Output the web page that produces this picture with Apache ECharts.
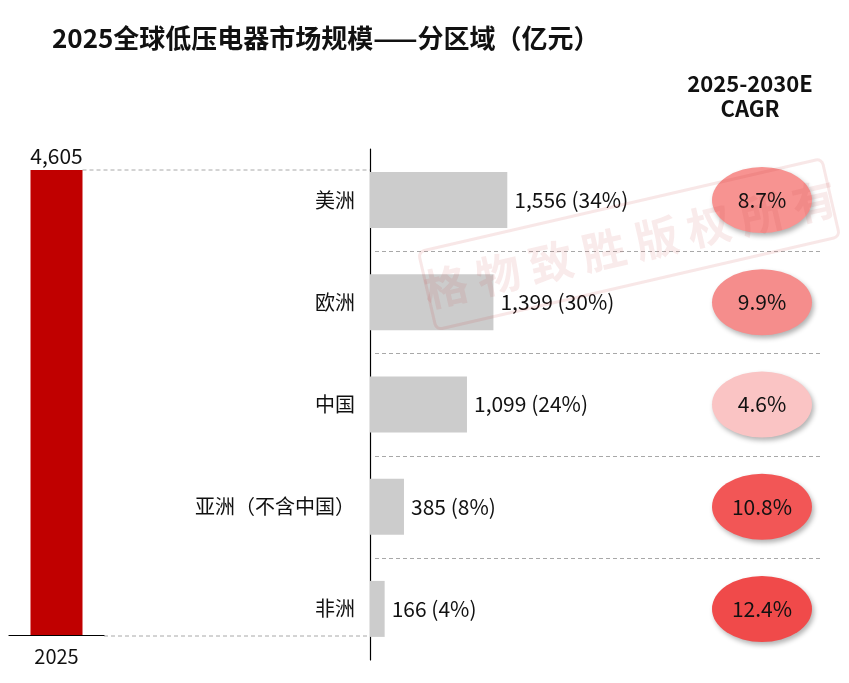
<!DOCTYPE html>
<html>
<head>
<meta charset="utf-8">
<script src="https://cdn.jsdelivr.net/npm/echarts@6/dist/echarts.min.js"></script>
<style>
  html, body { margin: 0; padding: 0; background: #fff; }
  #chart { width: 849px; height: 683px; }
</style>
</head>
<body>
<div id="chart"></div>
<script>
const FONT = '"Noto Sans CJK SC", "Noto Sans", sans-serif';

const years = ['2025'];
const totals = [4605];
const regions = ['美洲', '欧洲', '中国', '亚洲（不含中国）', '非洲'];
const regionValues = [1556, 1399, 1099, 385, 166];
const cagrValues = [8.7, 9.9, 4.6, 10.8, 12.4];
const cagrColors = ['#F79391', '#F58D8C', '#FAC4C4', '#F25656', '#F04A4A'];

const fmt = v => v.toLocaleString('en-US');

const chart = echarts.init(document.getElementById('chart'));

let option = {
  backgroundColor: '#fff',
  textStyle: { fontFamily: FONT },
  animation: false,
  title: [
    {
      text: '2025全球低压电器市场规模——分区域（亿元）',
      left: 47, top: 20,
      textStyle: { fontFamily: FONT, fontSize: 26, fontWeight: 'bold', color: '#111' }
    },
    {
      text: '2025-2030E\nCAGR',
      left: 745, top: 66, textAlign: 'center',
      textStyle: { fontFamily: FONT, fontSize: 22, fontWeight: 'bold', color: '#111', lineHeight: 25 }
    }
  ],
  grid: [
    { left: 9, width: 95, top: 170, bottom: 48 },
    { left: 370, width: 450, top: 149, bottom: 23 },
    { left: 712, width: 100, top: 149, bottom: 23 }
  ],
  xAxis: [
    {
      gridIndex: 0, type: 'category', data: years,
      axisLine: { lineStyle: { color: '#000', width: 1.2 } },
      axisTick: { show: false },
      axisLabel: { color: '#111', fontSize: 20, margin: 11, fontFamily: FONT }
    },
    { gridIndex: 1, type: 'value', min: 0, max: 5100, show: false },
    { gridIndex: 2, type: 'value', min: -1, max: 1, show: false }
  ],
  yAxis: [
    { gridIndex: 0, type: 'value', min: 0, max: 4605, show: false },
    {
      gridIndex: 1, type: 'category', data: regions, inverse: true,
      axisLine: { show: true, lineStyle: { color: '#000', width: 1.2 } },
      axisTick: { show: false },
      axisLabel: { color: '#111', fontSize: 20, margin: 15, fontFamily: FONT },
      splitLine: { show: false }
    },
    { gridIndex: 2, type: 'category', data: regions, inverse: true, show: false }
  ],
  series: [
    {
      type: 'bar', xAxisIndex: 0, yAxisIndex: 0,
      data: totals, barWidth: 52,
      itemStyle: { color: '#C00000' },
      label: {
        show: true, position: 'top', distance: 3,
        color: '#111', fontSize: 21, fontFamily: FONT,
        formatter: p => fmt(p.value)
      }
    },
    {
      type: 'bar', xAxisIndex: 1, yAxisIndex: 1,
      data: regionValues, barWidth: 56,
      itemStyle: { color: '#CCCCCC' },
      label: {
        show: true, position: 'right', distance: 7,
        color: '#111', fontSize: 21, fontFamily: FONT,
        formatter: p => fmt(p.value) + ' (' + Math.round(p.value / totals[0] * 100) + '%)'
      }
    },
    {
      type: 'scatter', xAxisIndex: 2, yAxisIndex: 2, z: 5,
      symbol: 'circle', symbolSize: [100, 66],
      data: cagrValues.map((v, i) => ({
        value: [0, i], cagr: v,
        itemStyle: { color: cagrColors[i] }
      })),
      itemStyle: {
        opacity: 1,
        shadowBlur: 5, shadowOffsetX: 2, shadowOffsetY: 3,
        shadowColor: 'rgba(0,0,0,0.3)'
      },
      label: {
        show: true, position: 'inside',
        color: '#111', fontSize: 21, fontFamily: FONT,
        formatter: p => p.data.cagr.toFixed(1) + '%'
      }
    }
  ]
};

chart.setOption(option);

// dashed connectors and row separators, placed from the axes
const rect0 = chart.getModel().getComponent('grid', 0).coordinateSystem.getRect();
const barTop = chart.convertToPixel({ xAxisIndex: 0, yAxisIndex: 0 }, [years[0], totals[0]]);
const axisX = chart.convertToPixel({ xAxisIndex: 1 }, 0);
const base = chart.convertToPixel({ yAxisIndex: 0 }, 0);
const dash = { stroke: '#A8A8A8', lineWidth: 1, lineDash: [4, 3] };

const graphics = [
  { type: 'line', shape: { x1: barTop[0] + 26, y1: barTop[1], x2: axisX, y2: barTop[1] }, style: dash },
  { type: 'line', shape: { x1: rect0.x + rect0.width, y1: base + 1, x2: axisX, y2: base + 1 }, style: dash }
];
for (let i = 0; i < regions.length - 1; i++) {
  const y1 = chart.convertToPixel({ yAxisIndex: 1 }, regions[i]);
  const y2 = chart.convertToPixel({ yAxisIndex: 1 }, regions[i + 1]);
  const y = Math.round((y1 + y2) / 2) + 0.5;
  graphics.push({ type: 'line', shape: { x1: axisX + 5, y1: y, x2: 820, y2: y }, style: dash });
}

// faint watermark laid over the chart
graphics.push({
  type: 'group', x: 630, y: 244, rotation: 13 * Math.PI / 180, silent: true, z: 100,
  children: [
    {
      type: 'rect', z: 100, shape: { x: -208, y: -40, width: 414, height: 80, r: 6 },
      style: { fill: 'none', stroke: 'rgba(200,60,60,0.12)', lineWidth: 3 }
    },
    {
      type: 'text', z: 100, x: 0, y: 0,
      style: {
        text: '格 物 致 胜 版 权 所 有', fill: 'rgba(200,60,60,0.10)',
        font: 'bold 44px "Noto Sans CJK SC"', align: 'center', verticalAlign: 'middle'
      }
    }
  ]
});

chart.setOption({ graphic: graphics });

window.addEventListener('resize', () => {
  chart.resize();
});
</script>
</body>
</html>
